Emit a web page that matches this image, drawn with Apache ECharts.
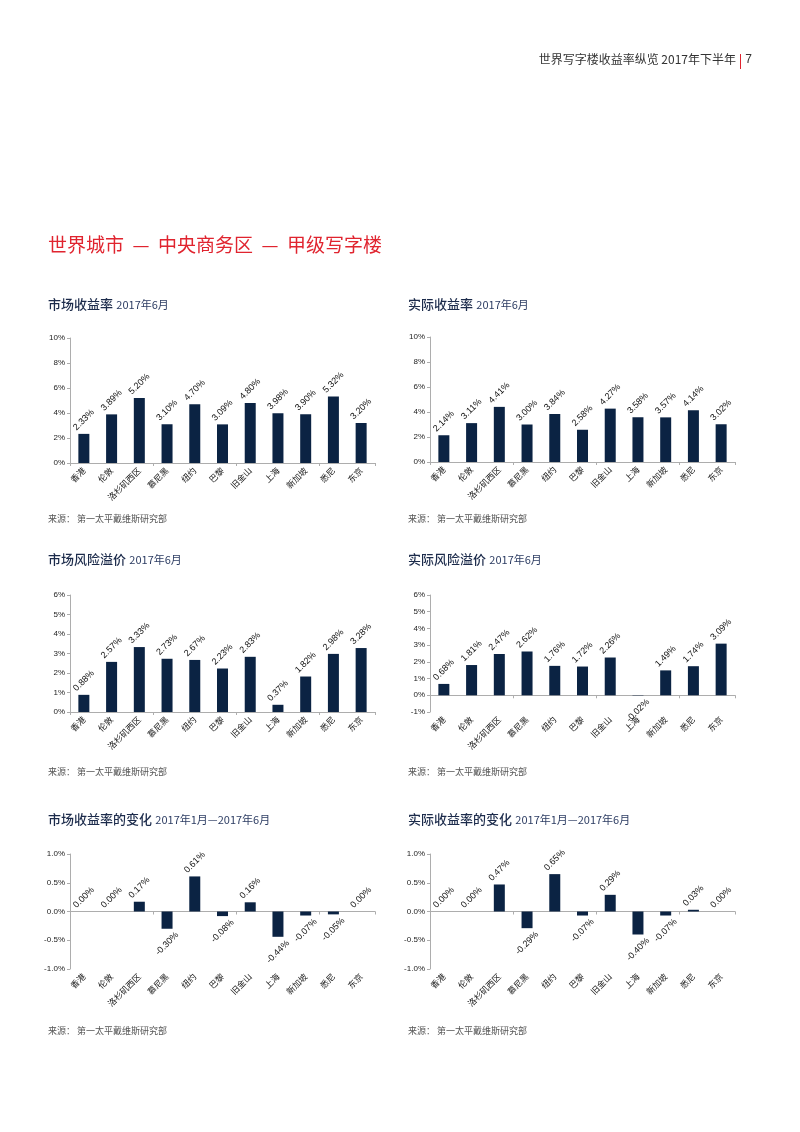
<!DOCTYPE html>
<html>
<head>
<meta charset="utf-8">
<script src="https://cdn.jsdelivr.net/npm/echarts@6/dist/echarts.min.js"></script>
<style>
  html, body { margin: 0; padding: 0; background: #fff; }
  #page { width: 800px; height: 1132px; }
</style>
</head>
<body>
<div id="page"></div>
<script>
// 城市
var cities = ['香港', '伦敦', '洛杉矶西区', '慕尼黑', '纽约', '巴黎', '旧金山', '上海', '新加坡', '悉尼', '东京'];
// 市场收益率 2017年6月
var marketYield = [2.33, 3.89, 5.20, 3.10, 4.70, 3.09, 4.80, 3.98, 3.90, 5.32, 3.20];
// 实际收益率 2017年6月
var realYield = [2.14, 3.11, 4.41, 3.00, 3.84, 2.58, 4.27, 3.58, 3.57, 4.14, 3.02];
// 市场风险溢价 2017年6月
var marketRisk = [0.88, 2.57, 3.33, 2.73, 2.67, 2.23, 2.83, 0.37, 1.82, 2.98, 3.28];
// 实际风险溢价 2017年6月
var realRisk = [0.68, 1.81, 2.47, 2.62, 1.76, 1.72, 2.26, -0.02, 1.49, 1.74, 3.09];
// 收益率的变化 2017年1月—2017年6月
var marketChange = [0.00, 0.00, 0.17, -0.30, 0.61, -0.08, 0.16, -0.44, -0.07, -0.05, 0.00];
var realChange = [0.00, 0.00, 0.47, -0.29, 0.65, -0.07, 0.29, -0.40, -0.07, 0.03, 0.00];

var NAVY = '#0b2343';
var AXIS = '#adadad';
var FONT = '"Liberation Sans", Arial, "Noto Sans CJK SC", sans-serif';
var CJK = '"Noto Sans CJK SC", sans-serif';

// 每个小图: 标题, 副标题, 数据, 轴范围, 位置
var panels = [
  { title: '市场收益率', sub: '2017年6月', data: marketYield, min: 0, max: 10, step: 2, dec: 0, left: 70, top: 338, h: 125, titleY: 307, srcY: 520 },
  { title: '实际收益率', sub: '2017年6月', data: realYield, min: 0, max: 10, step: 2, dec: 0, left: 430, top: 337, h: 125, titleY: 307, srcY: 520 },
  { title: '市场风险溢价', sub: '2017年6月', data: marketRisk, min: 0, max: 6, step: 1, dec: 0, left: 70, top: 595, h: 117, titleY: 562, srcY: 773 },
  { title: '实际风险溢价', sub: '2017年6月', data: realRisk, min: -1, max: 6, step: 1, dec: 0, left: 430, top: 595, h: 117, titleY: 562, srcY: 773 },
  { title: '市场收益率的变化', sub: '2017年1月—2017年6月', data: marketChange, min: -1, max: 1, step: 0.5, dec: 1, left: 70, top: 854, h: 115, titleY: 822, srcY: 1032 },
  { title: '实际收益率的变化', sub: '2017年1月—2017年6月', data: realChange, min: -1, max: 1, step: 0.5, dec: 1, left: 430, top: 854, h: 115, titleY: 822, srcY: 1032 }
];

var grid = [], xAxis = [], yAxis = [], series = [], graphic = [];

// 页眉
graphic.push(
  { type: 'text', right: 48, top: 54, style: { text: '7', font: '12px ' + FONT, fill: '#333' } },
  { type: 'rect', shape: { x: 740, y: 54, width: 1, height: 15 }, style: { fill: '#e0242f' } },
  { type: 'text', right: 64, top: 53, style: { text: '世界写字楼收益率纵览 2017年下半年', font: '12px ' + CJK, fill: '#333' } },
  { type: 'text', left: 48, top: 235, style: { text: '世界城市  —  中央商务区  —  甲级写字楼', font: '19px ' + CJK, fill: '#e0242f' } }
);

panels.forEach(function (p, i) {
  var tx = p.left - 22;
  graphic.push({
    type: 'text', left: tx, top: p.titleY - 9,
    style: {
      text: '{a|' + p.title + '} {b|' + p.sub + '}',
      rich: {
        a: { font: '500 13px ' + CJK, fill: '#1c2b4b' },
        b: { font: '11px ' + CJK, fill: '#2d3d63' }
      }
    }
  });
  graphic.push({
    type: 'text', left: tx, top: p.srcY - 6,
    style: { text: '来源： 第一太平戴维斯研究部', font: '9px ' + CJK, fill: '#555' }
  });

  grid.push({ left: p.left, top: p.top, width: 305, height: p.h });

  // 标签轴 (底部)
  xAxis.push({
    type: 'category', gridIndex: i, data: cities, position: 'bottom',
    axisLine: { show: false, onZero: false },
    axisTick: { show: false },
    axisLabel: { rotate: 45, fontSize: 8.5, fontFamily: CJK, color: '#222', margin: 6, interval: 0 }
  });
  // 零线轴
  xAxis.push({
    type: 'category', gridIndex: i, data: cities, position: 'bottom',
    axisLine: { show: true, onZero: true, lineStyle: { color: AXIS, width: 1 } },
    axisTick: { show: true, length: 3, lineStyle: { color: AXIS } },
    axisLabel: { show: false }
  });

  yAxis.push({
    type: 'value', gridIndex: i, min: p.min, max: p.max, interval: p.step,
    splitLine: { show: false },
    axisLine: { show: true, lineStyle: { color: AXIS, width: 1 } },
    axisTick: { show: true, length: 3, lineStyle: { color: AXIS } },
    axisLabel: {
      fontSize: 8, fontFamily: FONT, color: '#222', margin: 5,
      formatter: function (v) { return v.toFixed(p.dec) + '%'; }
    }
  });

  series.push({
    type: 'bar', xAxisIndex: i * 2, yAxisIndex: i, barWidth: 11,
    itemStyle: { color: NAVY },
    data: p.data.map(function (v) {
      return {
        value: v,
        label: { position: v < 0 ? 'bottom' : 'top', distance: v < 0 ? 15 : 14 }
      };
    }),
    label: {
      show: true, rotate: 45, align: 'center', verticalAlign: 'middle',
      fontSize: 9, fontFamily: FONT, color: '#111',
      formatter: function (d) { return d.value.toFixed(2) + '%'; }
    }
  });
});

var chart = echarts.init(document.getElementById('page'), null, { renderer: 'canvas' });
chart.setOption({
  animation: false,
  backgroundColor: '#fff',
  grid: grid,
  xAxis: xAxis,
  yAxis: yAxis,
  series: series,
  graphic: graphic
});
</script>
</body>
</html>
